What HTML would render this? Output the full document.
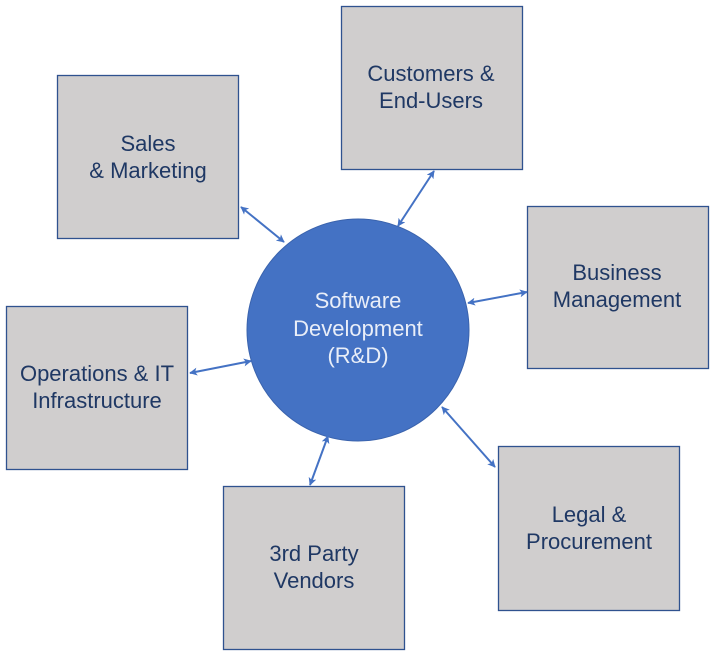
<!DOCTYPE html>
<html>
<head>
<meta charset="utf-8">
<style>
html,body{margin:0;padding:0;background:#ffffff;}
body{width:716px;height:656px;overflow:hidden;position:relative;}
svg{position:absolute;left:0;top:0;}
text{font-family:"Liberation Sans",sans-serif;font-size:22px;}
.bt{fill:#1f3864;}
.ct{fill:#e9eef8;}
</style>
</head>
<body>
<svg width="716" height="656" viewBox="0 0 716 656" xmlns="http://www.w3.org/2000/svg">
<defs>
<marker id="ah" viewBox="0 0 10 10" refX="9" refY="5" markerWidth="4" markerHeight="4" orient="auto-start-reverse" markerUnits="strokeWidth">
<path d="M0,0 L10,5 L0,10 L2.5,5 z" fill="#4472c4"/>
</marker>
</defs>
<!-- boxes -->
<g fill="#d0cece" stroke="#2f528f" stroke-width="1.3">
<rect x="57.5" y="75.5" width="181" height="163"/>
<rect x="341.5" y="6.5" width="181" height="163"/>
<rect x="527.5" y="206.5" width="181" height="162"/>
<rect x="6.5" y="306.5" width="181" height="163"/>
<rect x="223.5" y="486.5" width="181" height="163"/>
<rect x="498.5" y="446.5" width="181" height="164"/>
</g>
<!-- circle -->
<circle cx="358" cy="330" r="111" fill="#4472c4" stroke="#3a63ad" stroke-width="1"/>
<!-- arrows -->
<g stroke="#4472c4" stroke-width="2" fill="none" marker-start="url(#ah)" marker-end="url(#ah)">
<line x1="241" y1="207" x2="284" y2="242"/>
<line x1="434" y1="171" x2="398" y2="226"/>
<line x1="468" y1="303" x2="527" y2="292"/>
<line x1="190" y1="373" x2="251" y2="361"/>
<line x1="328" y1="436" x2="310" y2="485"/>
<line x1="442" y1="407" x2="495" y2="467"/>
</g>
<!-- labels -->
<g text-anchor="middle">
<text class="bt" x="148" y="151">Sales</text>
<text class="bt" x="148" y="178">&amp; Marketing</text>
<text class="bt" x="431" y="81">Customers &amp;</text>
<text class="bt" x="431" y="108">End-Users</text>
<text class="bt" x="617" y="280">Business</text>
<text class="bt" x="617" y="307">Management</text>
<text class="bt" x="97" y="381">Operations &amp; IT</text>
<text class="bt" x="97" y="408">Infrastructure</text>
<text class="bt" x="314" y="561">3rd Party</text>
<text class="bt" x="314" y="588">Vendors</text>
<text class="bt" x="589" y="522">Legal &amp;</text>
<text class="bt" x="589" y="549">Procurement</text>
<text class="ct" x="358" y="308">Software</text>
<text class="ct" x="358" y="336">Development</text>
<text class="ct" x="358" y="363">(R&amp;D)</text>
</g>
</svg>
</body>
</html>
